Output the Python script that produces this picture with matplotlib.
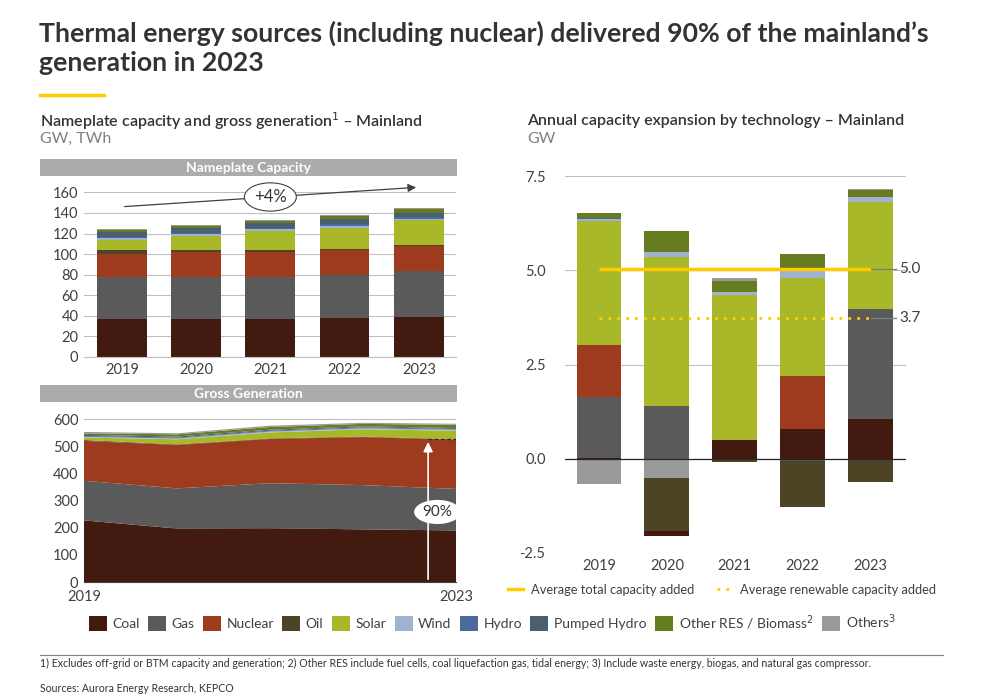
import matplotlib.pyplot as plt
import numpy as np
from matplotlib.patches import Rectangle, Patch
from matplotlib.lines import Line2D
from matplotlib.ticker import FormatStrFormatter

plt.rcParams['font.family'] = ['Lato', 'DejaVu Sans']
plt.rcParams['axes.unicode_minus'] = False

# ---- data ----
years = ['2019', '2020', '2021', '2022', '2023']
techs = ['Coal', 'Gas', 'Nuclear', 'Oil', 'Solar', 'Wind', 'Hydro',
         'Pumped Hydro', 'Other RES / Biomass$^2$', 'Others$^3$']
colors = ['#431A10', '#5A5A5A', '#9E3A1E', '#4D4425', '#A8B828',
          '#9FB3D1', '#4A6A9A', '#4A5F70', '#667C1E', '#999999']

# nameplate capacity, GW
cap_coal = [37.0, 37.0, 37.0, 38.2, 38.9]
cap_gas = [40.5, 41.0, 41.0, 41.1, 44.4]
cap_nuclear = [22.6, 24.0, 24.0, 24.9, 24.5]
cap_oil = [3.9, 2.0, 2.0, 1.0, 1.0]
cap_solar = [10.1, 14.0, 18.6, 20.6, 23.9]
cap_wind = [1.5, 1.7, 1.3, 1.6, 1.6]
cap_hydro = [0.7, 1.0, 1.5, 2.0, 1.3]
cap_pumped = [4.9, 4.9, 4.9, 5.0, 4.6]
cap_other_res = [2.0, 2.0, 2.0, 3.0, 3.3]
cap_others = [1.0, 1.0, 1.0, 1.0, 1.0]

# gross generation, TWh
gen_years = [2019, 2020, 2021, 2022, 2023]
gen_coal = [227, 197, 198, 194, 190]
gen_gas = [146, 148, 166, 163, 153]
gen_nuclear = [147, 160, 163, 177, 181]
gen_oil = [3, 2, 2, 2, 2]
gen_solar = [9, 19, 22, 27, 31]
gen_wind = [3, 3, 3.5, 3.5, 4]
gen_hydro = [3, 3, 3, 3.5, 3]
gen_pumped = [4, 4, 3.5, 3.5, 3]
gen_other_res = [6, 8, 10, 9, 12]
gen_others = [5, 4, 5, 4, 4]

# annual capacity expansion, GW
add_coal = [0.03, -0.15, 0.49, 0.78, 1.05]
add_gas = [1.60, 1.39, 0.02, 0.0, 2.92]
add_nuclear = [1.38, 0.0, 0.0, 1.41, 0.0]
add_oil = [0.0, -1.41, -0.09, -1.23, -0.62]
add_solar = [3.29, 3.96, 3.83, 2.61, 2.83]
add_wind = [0.06, 0.13, 0.09, 0.20, 0.14]
add_hydro = [0.035, 0.0, 0.0, 0.0, 0.0]
add_pumped = [0.0, 0.0, 0.0, -0.06, 0.0]
add_other_res = [0.13, 0.57, 0.28, 0.43, 0.20]
add_others = [-0.68, -0.50, 0.08, 0.0, 0.02]
avg_total = 5.04
avg_renew = 3.74

cap = [cap_coal, cap_gas, cap_nuclear, cap_oil, cap_solar, cap_wind,
       cap_hydro, cap_pumped, cap_other_res, cap_others]
gen = [gen_coal, gen_gas, gen_nuclear, gen_oil, gen_solar, gen_wind,
       gen_hydro, gen_pumped, gen_other_res, gen_others]
add = [add_coal, add_gas, add_nuclear, add_oil, add_solar, add_wind,
       add_hydro, add_pumped, add_other_res, add_others]

W, H = 988, 698
TXT = '#404040'
GRID = '#BFBFBF'


def fx(x):
    return x / W


def fy(y):
    return 1 - y / H


fig = plt.figure(figsize=(9.88, 6.98), dpi=100)

# ---- headings ----
fig.text(fx(39), fy(21), 'Thermal energy sources (including nuclear) delivered 90% of the mainland\u2019s\ngeneration in 2023',
         fontsize=19.2, fontweight='bold', color='#333333', va='top', ha='left', linespacing=1.25)
fig.add_artist(Line2D([fx(40), fx(104)], [fy(95), fy(95)], color='#FFCC00', lw=2.5))
fig.text(fx(40), fy(121), 'Nameplate capacity and gross generation$^1$ \u2013 Mainland',
         fontsize=11.5, fontweight='semibold', color='#333333', va='center')
fig.text(fx(40), fy(139), 'GW, TWh', fontsize=11.5, color='#808080', va='center')
fig.text(fx(527), fy(121), 'Annual capacity expansion by technology \u2013 Mainland',
         fontsize=11.5, fontweight='semibold', color='#333333', va='center')
fig.text(fx(527), fy(139), 'GW', fontsize=11.5, color='#808080', va='center')

for top, label in [(159, 'Nameplate Capacity'), (385, 'Gross Generation')]:
    fig.add_artist(Rectangle((fx(40), fy(top + 17)), fx(417), 17 / H,
                             facecolor='#ABABAB', edgecolor='none'))
    fig.text(fx(248), fy(top + 8.5), label, color='white', fontsize=10,
             fontweight='bold', ha='center', va='center')

# ---- nameplate capacity ----
ax1 = fig.add_axes([fx(84), fy(357), fx(372), 177 / H])
x = np.arange(len(years))
bottom = np.zeros(len(years))
for vals, c in zip(cap, colors):
    ax1.bar(x, vals, bottom=bottom, width=0.67, color=c, zorder=2)
    bottom += np.array(vals)
ax1.set_xlim(-0.51, 4.5)
ax1.set_ylim(0, 172)
ax1.set_yticks(range(0, 161, 20))
ax1.set_xticks(x)
ax1.set_xticklabels(years)
ax1.grid(axis='y', color=GRID, lw=0.8, zorder=0)
for s in ['top', 'right', 'left']:
    ax1.spines[s].set_visible(False)
ax1.spines['bottom'].set_color(GRID)
ax1.tick_params(length=0, labelsize=10.5, colors=TXT, pad=4)
ax1.annotate('', xy=(4, 165), xytext=(0, 146),
             arrowprops=dict(arrowstyle='-|>', color='#404040', lw=0.9, mutation_scale=12))
ax1.text(2, 155.5, '+4%', ha='center', va='center', fontsize=12, color='#333333',
         bbox=dict(boxstyle='ellipse,pad=0.12', fc='white', ec='#404040', lw=0.8), zorder=5)

# ---- gross generation ----
ax2 = fig.add_axes([fx(84), fy(582), fx(372), 171 / H])
ax2.stackplot(gen_years, *gen, colors=colors, zorder=2)
ax2.set_xlim(2019, 2023)
ax2.set_ylim(0, 630)
ax2.set_yticks(range(0, 601, 100))
ax2.set_xticks([2019, 2023])
ax2.set_xticklabels(['2019', '2023'])
ax2.grid(axis='y', color=GRID, lw=0.8, zorder=0)
for s in ['top', 'right', 'left']:
    ax2.spines[s].set_visible(False)
ax2.spines['bottom'].set_color('#404040')
ax2.tick_params(length=0, labelsize=10.5, colors=TXT, pad=4)
ax2.tick_params(axis='x', pad=6)
thermal_top = gen_coal[-1] + gen_gas[-1] + gen_nuclear[-1] + gen_oil[-1]
ax2.plot([2022.7, 2023], [thermal_top, thermal_top], color='#262626', lw=0.9, ls=(0, (3, 2)), zorder=4)
ax2.annotate('', xy=(2022.7, thermal_top), xytext=(2022.7, 0),
             arrowprops=dict(arrowstyle='-|>', color='white', lw=1.2, mutation_scale=14), zorder=4)
ax2.text(2022.8, 258, '90%', ha='center', va='center', fontsize=11, color='#333333',
         bbox=dict(boxstyle='ellipse,pad=0.1', fc='white', ec='none'), zorder=5)

# ---- annual capacity expansion ----
ax3 = fig.add_axes([fx(565), fy(553), fx(341), 377 / H])
pos = np.zeros(len(years))
neg = np.zeros(len(years))
for vals, c in zip(add, colors):
    v = np.array(vals)
    p = np.where(v > 0, v, 0)
    ax3.bar(x, p, bottom=pos, width=0.66, color=c, zorder=2)
    pos += p
for vals, c in zip(add[::-1], colors[::-1]):
    v = np.array(vals)
    n = np.where(v < 0, v, 0)
    ax3.bar(x, n, bottom=neg, width=0.66, color=c, zorder=2)
    neg += n
ax3.set_xlim(-0.5, 4.52)
ax3.set_ylim(-2.5, 7.5)
ax3.set_yticks([-2.5, 0, 2.5, 5.0, 7.5])
ax3.yaxis.set_major_formatter(FormatStrFormatter('%.1f'))
ax3.set_xticks(x)
ax3.set_xticklabels(years)
ax3.grid(axis='y', color=GRID, lw=0.8, zorder=0)
ax3.axhline(0, color='#262626', lw=0.9, zorder=3)
for s in ['top', 'right', 'left', 'bottom']:
    ax3.spines[s].set_visible(False)
ax3.tick_params(length=0, labelsize=10.5, colors=TXT)
ax3.tick_params(axis='y', pad=14)
ax3.tick_params(axis='x', pad=4)
ax3.plot([0, 4], [avg_total, avg_total], color='#FFCC00', lw=2.5, zorder=4, solid_capstyle='butt')
ax3.plot([0, 4], [avg_renew, avg_renew], color='#FFCC00', lw=2, ls=(0, (1, 2.2)), zorder=4)
for val in [avg_total, avg_renew]:
    ax3.plot([4.0, 4.37], [val, val], color='#7F7F7F', lw=0.9, zorder=4)
    ax3.text(4.42, val, f'{val:.1f}', ha='left', va='center', fontsize=11, color=TXT)

line_handles = [Line2D([], [], color='#FFCC00', lw=2.5),
                Line2D([], [], color='#FFCC00', lw=2, ls=(0, (1, 2.2)))]
fig.legend(line_handles, ['Average total capacity added', 'Average renewable capacity added'],
           loc='center', bbox_to_anchor=(fx(722), fy(590)), ncol=2, frameon=False,
           fontsize=9.3, handlelength=1.2, handletextpad=0.6, columnspacing=1.8, labelcolor=TXT)

# ---- main legend ----
patches = [Patch(facecolor=c, edgecolor='none') for c in colors]
fig.legend(patches, techs, loc='center', bbox_to_anchor=(fx(492), fy(622)), ncol=10,
           frameon=False, fontsize=10, handlelength=1.3, handleheight=1.3,
           handletextpad=0.4, columnspacing=0.6, labelcolor=TXT)

# ---- footnotes ----
fig.add_artist(Line2D([fx(40), fx(943)], [fy(655), fy(655)], color='#808080', lw=0.8))
fig.text(fx(40), fy(663), '1) Excludes off-grid or BTM capacity and generation; 2) Other RES include fuel cells, coal liquefaction gas, tidal energy; '
         '3) Include waste energy, biogas, and natural gas compressor.', fontsize=7.6, color='#333333', va='center')
fig.text(fx(40), fy(688), 'Sources: Aurora Energy Research, KEPCO', fontsize=7.6, color='#333333', va='center')

fig.savefig('out.png', dpi=100)
